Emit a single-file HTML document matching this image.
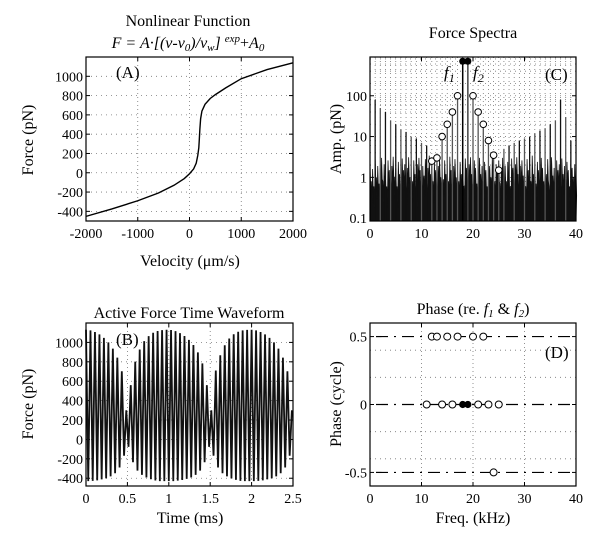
<!DOCTYPE html>
<html><head><meta charset="utf-8">
<style>
html,body{margin:0;padding:0;background:#fff;}
svg{display:block;font-family:"Liberation Serif",serif;}
</style></head>
<body>
<svg id="fig" width="600" height="541" viewBox="0 0 600 541" xmlns="http://www.w3.org/2000/svg">
<g>
<text x="188" y="26" font-size="16" text-anchor="middle">Nonlinear Function</text>
<text x="188" y="48" font-size="16" text-anchor="middle" font-style="italic">F = A·[(v-v<tspan font-size="11" dy="3">0</tspan><tspan dy="-3">)/v</tspan><tspan font-size="11" dy="3">w</tspan><tspan dy="-3">] </tspan><tspan font-size="11" dy="-6">exp</tspan><tspan dy="6" font-style="normal">+</tspan>A<tspan font-size="11" dy="3">0</tspan></text>
<text x="190" y="266" font-size="16" text-anchor="middle">Velocity (μm/s)</text>
<text transform="translate(33,140) rotate(-90)" font-size="16" text-anchor="middle">Force (pN)</text>
</g>
<g>
<text x="473" y="38" font-size="16" text-anchor="middle">Force Spectra</text>
<text transform="translate(341,139) rotate(-90)" font-size="16" text-anchor="middle">Amp. (pN)</text>
</g>
<g>
<text x="189" y="318" font-size="16" text-anchor="middle">Active Force Time Waveform</text>
<text x="190" y="523" font-size="16" text-anchor="middle">Time (ms)</text>
<text transform="translate(33,404) rotate(-90)" font-size="16" text-anchor="middle">Force (pN)</text>
</g>
<g>
<text x="473" y="314" font-size="16" text-anchor="middle">Phase (re. <tspan font-style="italic">f</tspan><tspan font-style="italic" font-size="11" dy="3">1</tspan><tspan dy="-3"> &amp; </tspan><tspan font-style="italic">f</tspan><tspan font-style="italic" font-size="11" dy="3">2</tspan><tspan dy="-3">)</tspan></text>
<text x="473" y="523" font-size="16" text-anchor="middle">Freq. (kHz)</text>
<text transform="translate(341,404) rotate(-90)" font-size="16" text-anchor="middle">Phase (cycle)</text>
</g>
<g id="A"></g><g id="B"></g><g id="C"></g><g id="D"></g>
</svg>
<script>
// ---- Panel A data
const aVel = [-2000,-1500,-1000,-600,-300,-100,0,80,130,160,180,190,200,215,240,300,400,500,700,1000,1500,2000];
const aForce = [-452,-375,-290,-210,-130,-60,-10,40,100,180,260,350,450,560,640,710,770,810,880,975,1070,1140];
const aXTicks = [-2000,-1000,0,1000,2000];
const aYTicks = [-400,-200,0,200,400,600,800,1000];
// ---- Panel B data (envelope of waveform, 0.05 ms steps, 0..2.5 ms)
const bEnvTimes = [0,0.05,0.1,0.15,0.2,0.25,0.3,0.35,0.4,0.45,0.5,0.55,0.6,0.65,0.7,0.75,0.8,0.85,0.9,0.95,1.0,1.05,1.1,1.15,1.2,1.25,1.3,1.35,1.4,1.45,1.5,1.55,1.6,1.65,1.7,1.75,1.8,1.85,1.9,1.95,2.0,2.05,2.1,2.15,2.2,2.25,2.3,2.35,2.4,2.45,2.5];
const bUpper = [1130,1125,1110,1090,1060,1020,970,900,800,650,170,650,820,930,1010,1060,1095,1115,1125,1130,1130,1125,1110,1090,1060,1020,970,900,800,650,170,650,820,930,1010,1060,1095,1115,1125,1130,1130,1125,1110,1090,1060,1020,970,900,800,650,170];
const bLower = [-430,-430,-425,-420,-410,-400,-380,-350,-300,-200,-30,-200,-300,-350,-380,-400,-415,-425,-430,-430,-430,-430,-425,-420,-410,-400,-380,-350,-300,-200,-30,-200,-300,-350,-380,-400,-415,-425,-430,-430,-430,-430,-425,-420,-410,-400,-380,-350,-300,-200,-30];
const bCarrierKHz = 18.5;
const bXTicks = [0,0.5,1,1.5,2,2.5];
const bYTicks = [-400,-200,0,200,400,600,800,1000];
// ---- Panel C data
const cNoise = [2.2,0.8,1.6,0.6,2.8,1.0,1.9,0.7,1.7,3.0,0.8,2.1,1.2,0.6,2.6,1.5,0.9,1.9,3.2,1.0,1.7,0.6,2.4,1.2,0.8,2.9,1.5,2.1,0.7,1.7,3.1,1.0,1.9,0.8,2.6,1.2,0.6,2.1,3.0,1.5,0.8,1.9,1.1,2.8,0.7,1.7,3.4,1.2,2.1,0.8,2.4,1.5,0.6,1.9,3.0,1.0,1.7,0.9,2.6,1.2,2.1,0.8,3.2,1.5,0.7,1.9,2.8,1.0,1.5,0.8,2.4,1.2,1.9,0.6,2.9,1.7,1.0,2.1,3.1,1.2,0.8,2.6,1.7,0.7,2.1,3.0,1.2,1.9,0.8,2.4,1.5,0.6,2.8,1.9,1.0,3.3,1.2,0.8,2.1,1.5,2.6,0.7,1.7,3.0,1.0,1.9,0.8,2.4,1.3,0.6,2.9,1.7,0.9,2.1,3.1,1.2,0.8,1.9,2.6,1.1,1.7,0.6,2.8,1.5,2.1,0.8,3.4,1.2,1.9,0.7,2.4,1.5,1.0,3.0,1.7,0.8,2.1,1.2,2.8,0.6,1.9,3.1,1.1,1.7,0.8,2.6,1.5,2.1,0.7,2.9,1.2,1.9,0.9,2.4,1.5,0.6,3.0,1.7,1.0,2.1,1.2];
const cNoiseStep = 0.25;
const cSpikeFreqs = [1,2,3,4,5,6,7,8,9,10,11,26,27,28,29,30,31,32,33,34,35,36,37,38,39];
const cSpikeAmps = [80,50,40,25,20,15,13,10,9,7,6,5,6,7,8,9,10,12,14,16,20,25,80,30,8];
const cSideFreqs = [12,13,14,15,16,17,20,21,22,23,24,25];
const cSideAmps = [2.5,3,10,20,40,100,100,40,20,8,3.5,1.5];
const cPrimFreqs = [18,19];
const cPrimAmps = [700,700];
const cXTicks = [0,10,20,30,40];
const cYTicks = [0.1,1,10,100];
// ---- Panel D data
const dFreqs = [12,13,15,17,20,22,11,14,16,21,23,25,24];
const dPhases = [0.5,0.5,0.5,0.5,0.5,0.5,0,0,0,0,0,0,-0.5];
const dPrimFreqs = [18,19];
const dPrimPhases = [0,0];
const dXTicks = [0,10,20,30,40];
const dYTicks = [-0.5,0,0.5];

const NS="http://www.w3.org/2000/svg";
function mk(parent,tag,attrs){const e=document.createElementNS(NS,tag);for(const k in attrs)e.setAttribute(k,attrs[k]);parent.appendChild(e);return e;}
function lin(d0,d1,r0,r1){return v=>r0+(v-d0)/(d1-d0)*(r1-r0);}
function interp(xs,ys,x){if(x<=xs[0])return ys[0];for(let i=1;i<xs.length;i++){if(x<=xs[i]){const t=(x-xs[i-1])/(xs[i]-xs[i-1]);return ys[i-1]+t*(ys[i]-ys[i-1]);}}return ys[ys.length-1];}

function frame(g,L,T,R,B,xt,yt,sx,sy,xfmt,yfmt,vgrid,hgrid){
  const grid=mk(g,'g',{});
  
  
  (vgrid||xt).forEach(v=>{const x=sx(v);if(x>L+0.5&&x<R-0.5)mk(grid,'line',{x1:x,x2:x,y1:T,y2:B,stroke:'#777','stroke-width':0.8,'stroke-dasharray':'1,3'});});
  (hgrid||yt).forEach(v=>{const y=sy(v);if(y>T+0.5&&y<B-0.5)mk(grid,'line',{x1:L,x2:R,y1:y,y2:y,stroke:'#777','stroke-width':0.8,'stroke-dasharray':'1,4'});});
  const ax=mk(g,'g',{});
  
  
  xt.forEach(v=>{const x=sx(v);
    mk(ax,'line',{x1:x,x2:x,y1:B,y2:B-4,stroke:'#000'});mk(ax,'line',{x1:x,x2:x,y1:T,y2:T+4,stroke:'#000'});
    const t=mk(ax,'text',{x:x,y:B+17,'font-size':14,'text-anchor':'middle'});t.textContent=xfmt(v);
    
    });
  yt.forEach(v=>{const y=sy(v);
    mk(ax,'line',{x1:L,x2:L+4,y1:y,y2:y,stroke:'#000'});mk(ax,'line',{x1:R,x2:R-4,y1:y,y2:y,stroke:'#000'});
    const t=mk(ax,'text',{x:L-3,y:y+5,'font-size':14,'text-anchor':'end'});t.textContent=yfmt(v);
    
    });
  return ax;
}
function box(g,L,T,R,B){const r=mk(g,'rect',{x:L,y:T,width:R-L,height:B-T,fill:'none',stroke:'#000','stroke-width':1.2});
  
  }
function label(g,x,y,s,name){const t=mk(g,'text',{x:x,y:y,'font-size':17});t.textContent=s;
  
  }

// Panel A
(function(){
  const g=document.getElementById('A');
  
  
  const L=86,R=293,T=57,B=221;
  const sx=lin(-2000,2000,L,R), sy=lin(-500,1200,B,T);
  frame(g,L,T,R,B,aXTicks,aYTicks,sx,sy,v=>String(v),v=>String(v));
  const p=mk(g,'polyline',{points:aVel.map((v,i)=>sx(v)+','+sy(aForce[i])).join(' '),fill:'none',stroke:'#000','stroke-width':1.4});
  
  
  box(g,L,T,R,B);
  label(g,116,78,'(A)','panel-a-label');
})();

// Panel B
(function(){
  const g=document.getElementById('B');
  
  
  const L=86,R=293,T=323,B=486;
  const sx=lin(0,2.5,L,R), sy=lin(-480,1200,B,T);
  frame(g,L,T,R,B,bXTicks,bYTicks,sx,sy,v=>String(v),v=>String(v));
  const half=1/bCarrierKHz/2; const pts=[];
  for(let k=0;k*half<=2.5+1e-9;k++){const t=k*half;const v=(k%2===0)?interp(bEnvTimes,bUpper,t):interp(bEnvTimes,bLower,t);pts.push(sx(t)+','+sy(v));}
  const p=mk(g,'polyline',{points:pts.join(' '),fill:'none',stroke:'#111','stroke-width':1.8});
  
  
  box(g,L,T,R,B);
  label(g,116,345,'(B)','panel-b-label');
})();

// Panel C
(function(){
  const g=document.getElementById('C');
  
  
  const L=370,R=576,T=57,B=221;
  const lt=lin(-1.07,2.95,B,T); const sy=v=>lt(Math.log10(v)); const sx=lin(0,40,L,R);
  const vg=[];for(let i=1;i<40;i++)vg.push(i);
  const hg=[];[0.1,1,10,100].forEach(d=>{[1,2,4,6,8].forEach(m=>hg.push(d*m));});
  frame(g,L,T,R,B,cXTicks,cYTicks,sx,sy,v=>String(v),v=>String(v),vg,hg);
  const ng=mk(g,'g',{});
  
  
  const pts=[sx(0)+','+B];
  cNoise.forEach((v,i)=>{const f=i*cNoiseStep;if(f<=40){pts.push(sx(f)+','+sy(Math.max(v,0.09)));pts.push(sx(f+cNoiseStep*0.5)+','+sy(Math.max(v*0.3,0.09)));}});
  pts.push(R+','+B);
  mk(ng,'polygon',{points:pts.join(' '),fill:'#111',stroke:'#111','stroke-width':0.8});
  cSpikeFreqs.forEach((f,i)=>{const l=mk(g,'line',{x1:sx(f),x2:sx(f),y1:B,y2:sy(cSpikeAmps[i]),stroke:(i%2?'#555':'#111'),'stroke-width':1.3});
    
    });
  cSideFreqs.forEach((f,i)=>{const y=sy(cSideAmps[i]);
    const l=mk(g,'line',{x1:sx(f),x2:sx(f),y1:B,y2:y+3,stroke:'#555','stroke-width':1.3});
    
    
    const c=mk(g,'circle',{cx:sx(f),cy:y,r:3.3,fill:'#fff',stroke:'#000','stroke-width':1});
    
    });
  cPrimFreqs.forEach((f,i)=>{const y=sy(cPrimAmps[i]);
    const l=mk(g,'line',{x1:sx(f),x2:sx(f),y1:B,y2:y,stroke:(i?'#444':'#000'),'stroke-width':1.5});
    
    
    const c=mk(g,'circle',{cx:sx(f),cy:y,r:3.5,fill:'#000'});
    
    });
  box(g,L,T,R,B);
  const f1=mk(g,'text',{x:444,y:78,'font-size':17,'font-style':'italic'});f1.innerHTML='f<tspan font-size="12" dy="4">1</tspan>';
  
  
  const f2=mk(g,'text',{x:473,y:78,'font-size':17,'font-style':'italic'});f2.innerHTML='f<tspan font-size="12" dy="4">2</tspan>';
  
  
  label(g,545,80,'(C)','panel-c-label');
})();

// Panel D
(function(){
  const g=document.getElementById('D');
  
  
  const L=370,R=576,T=323,B=486;
  const sx=lin(0,40,L,R), sy=lin(-0.6,0.6,B,T);
  frame(g,L,T,R,B,dXTicks,dYTicks,sx,sy,v=>String(v),v=>String(v),dXTicks,[-0.4,-0.2,0.2,0.4]);
  dYTicks.forEach(v=>{const l=mk(g,'line',{x1:L+6,x2:R-4,y1:sy(v),y2:sy(v),stroke:'#000','stroke-width':1.2,'stroke-dasharray':'12,6,2,6'});
    
    });
  dFreqs.forEach((f,i)=>{const c=mk(g,'circle',{cx:sx(f),cy:sy(dPhases[i]),r:3.5,fill:'#fff',stroke:'#000','stroke-width':1});
    
    });
  dPrimFreqs.forEach((f,i)=>{const c=mk(g,'circle',{cx:sx(f),cy:sy(dPrimPhases[i]),r:3.6,fill:'#000'});
    
    });
  box(g,L,T,R,B);
  label(g,545,358,'(D)','panel-d-label');
})();
</script>
</body></html>
